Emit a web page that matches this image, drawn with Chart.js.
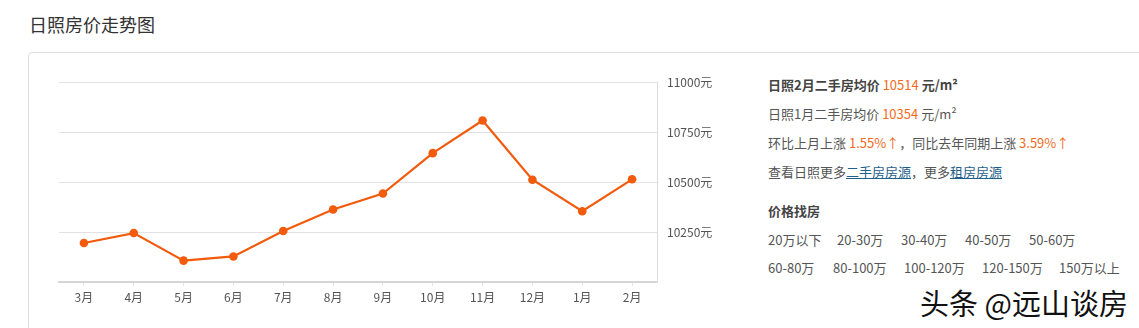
<!DOCTYPE html>
<html lang="zh-CN">
<head>
    <meta charset="UTF-8">
    <title>日照房价走势图</title>
    <script src="https://cdn.jsdelivr.net/npm/chart.js"></script>
    <style>
        body { margin: 0; width: 1139px; height: 328px; overflow: hidden; background: #fff;
               font-family: "Noto Sans CJK SC", "Microsoft YaHei", sans-serif; color: #555; position: relative; }
        .title { position: absolute; left: 29px; top: 11px; font-size: 18px; color: #333; }
        .card { position: absolute; left: 28px; top: 52px; width: 1200px; height: 320px;
                border: 1px solid #ddd; border-radius: 4px; }
        #box { position: absolute; left: 40px; top: 65px; width: 700px; height: 255px; }
        .info { position: absolute; left: 768px; font-size: 13px; line-height: 29px; white-space: nowrap; }
        .info b { color: #444; }
        .hl { color: #f26b21; }
        .info a { color: #1f5f8b; text-decoration: underline; }
        .tag { position: absolute; font-size: 13px; white-space: nowrap; color: #555; }
        .mark { position: absolute; left: 920px; top: 281px; font-size: 29px; color: #111;
                white-space: nowrap; text-shadow: 1px 1px 0 #fff, -1px -1px 0 #fff, 1px -1px 0 #fff, -1px 1px 0 #fff; }
    </style>
</head>
<body>
    <div class="title">日照房价走势图</div>
    <div class="card"></div>
    <div id="box"><canvas id="priceChart"></canvas></div>

    <div class="info" style="top:70px"><b>日照2月二手房均价 </b><span class="hl">10514</span><b> 元/m²</b></div>
    <div class="info" style="top:99px">日照1月二手房均价 <span class="hl">10354</span> 元/m²</div>
    <div class="info" style="top:128px">环比上月上涨 <span class="hl">1.55%↑</span>，同比去年同期上涨 <span class="hl">3.59%↑</span></div>
    <div class="info" style="top:157px">查看日照更多<a>二手房房源</a>，更多<a>租房房源</a></div>
    <div class="info" style="top:196px"><b>价格找房</b></div>
    <div id="tags"></div>
    <div class="mark">头条 @远山谈房</div>

    <script>
        // 月份
        const months = ['3月', '4月', '5月', '6月', '7月', '8月', '9月', '10月', '11月', '12月', '1月', '2月'];
        // 二手房均价（元/m²）
        const prices = [10195, 10245, 10107, 10128, 10255, 10363, 10443, 10645, 10808, 10512, 10354, 10514];
        // 纵轴范围
        const yMin = 10000;
        const yMax = 11000;
        const yStep = 250;
        // 价格找房
        const priceRow1 = ['20万以下', '20-30万', '30-40万', '40-50万', '50-60万'];
        const priceRow2 = ['60-80万', '80-100万', '100-120万', '120-150万', '150万以上'];

        const row1Left = [768, 837, 901, 965, 1029];
        const row2Left = [768, 833, 904, 982, 1059];
        const tags = document.getElementById('tags');
        function addRow(list, lefts, top) {
            list.forEach((t, i) => {
                const s = document.createElement('span');
                s.className = 'tag';
                s.textContent = t;
                s.style.left = lefts[i] + 'px';
                s.style.top = top + 'px';
                tags.appendChild(s);
            });
        }
        addRow(priceRow1, row1Left, 230);
        addRow(priceRow2, row2Left, 258);

        const lineColor = '#f25a0c';
        const ctx = document.getElementById('priceChart').getContext('2d');
        new Chart(ctx, {
            type: 'line',
            data: {
                labels: months,
                datasets: [{
                    data: prices,
                    borderColor: lineColor,
                    backgroundColor: lineColor,
                    borderWidth: 2.2,
                    pointRadius: 4.3,
                    pointBorderWidth: 0,
                    tension: 0,
                    fill: false
                }]
            },
            options: {
                responsive: true,
                maintainAspectRatio: false,
                animation: false,
                layout: { padding: { left: 19, top: 7, right: 0, bottom: 0 } },
                plugins: { legend: { display: false }, tooltip: { enabled: false } },
                scales: {
                    x: {
                        offset: true,
                        grid: { offset: false, drawOnChartArea: false, drawTicks: true, tickLength: 4, color: '#e6e6e6' },
                        border: { color: '#d6d6d6', width: 2 },
                        ticks: { color: '#555', font: { size: 12, family: '"Noto Sans CJK SC", sans-serif' }, padding: 4, maxRotation: 0 },
                        afterFit: s => { s.height = 38; }
                    },
                    y: {
                        position: 'right',
                        min: yMin,
                        max: yMax,
                        grid: { color: '#e2e2e2', drawTicks: false },
                        border: { color: '#dcdcdc', width: 1 },
                        ticks: {
                            stepSize: yStep,
                            padding: 10,
                            color: '#555',
                            font: { size: 12, family: '"Noto Sans CJK SC", sans-serif' },
                            callback: v => v === yMin ? '' : v + '元'
                        },
                        afterFit: s => { s.width = 83; }
                    }
                }
            }
        });
    </script>
</body>
</html>
